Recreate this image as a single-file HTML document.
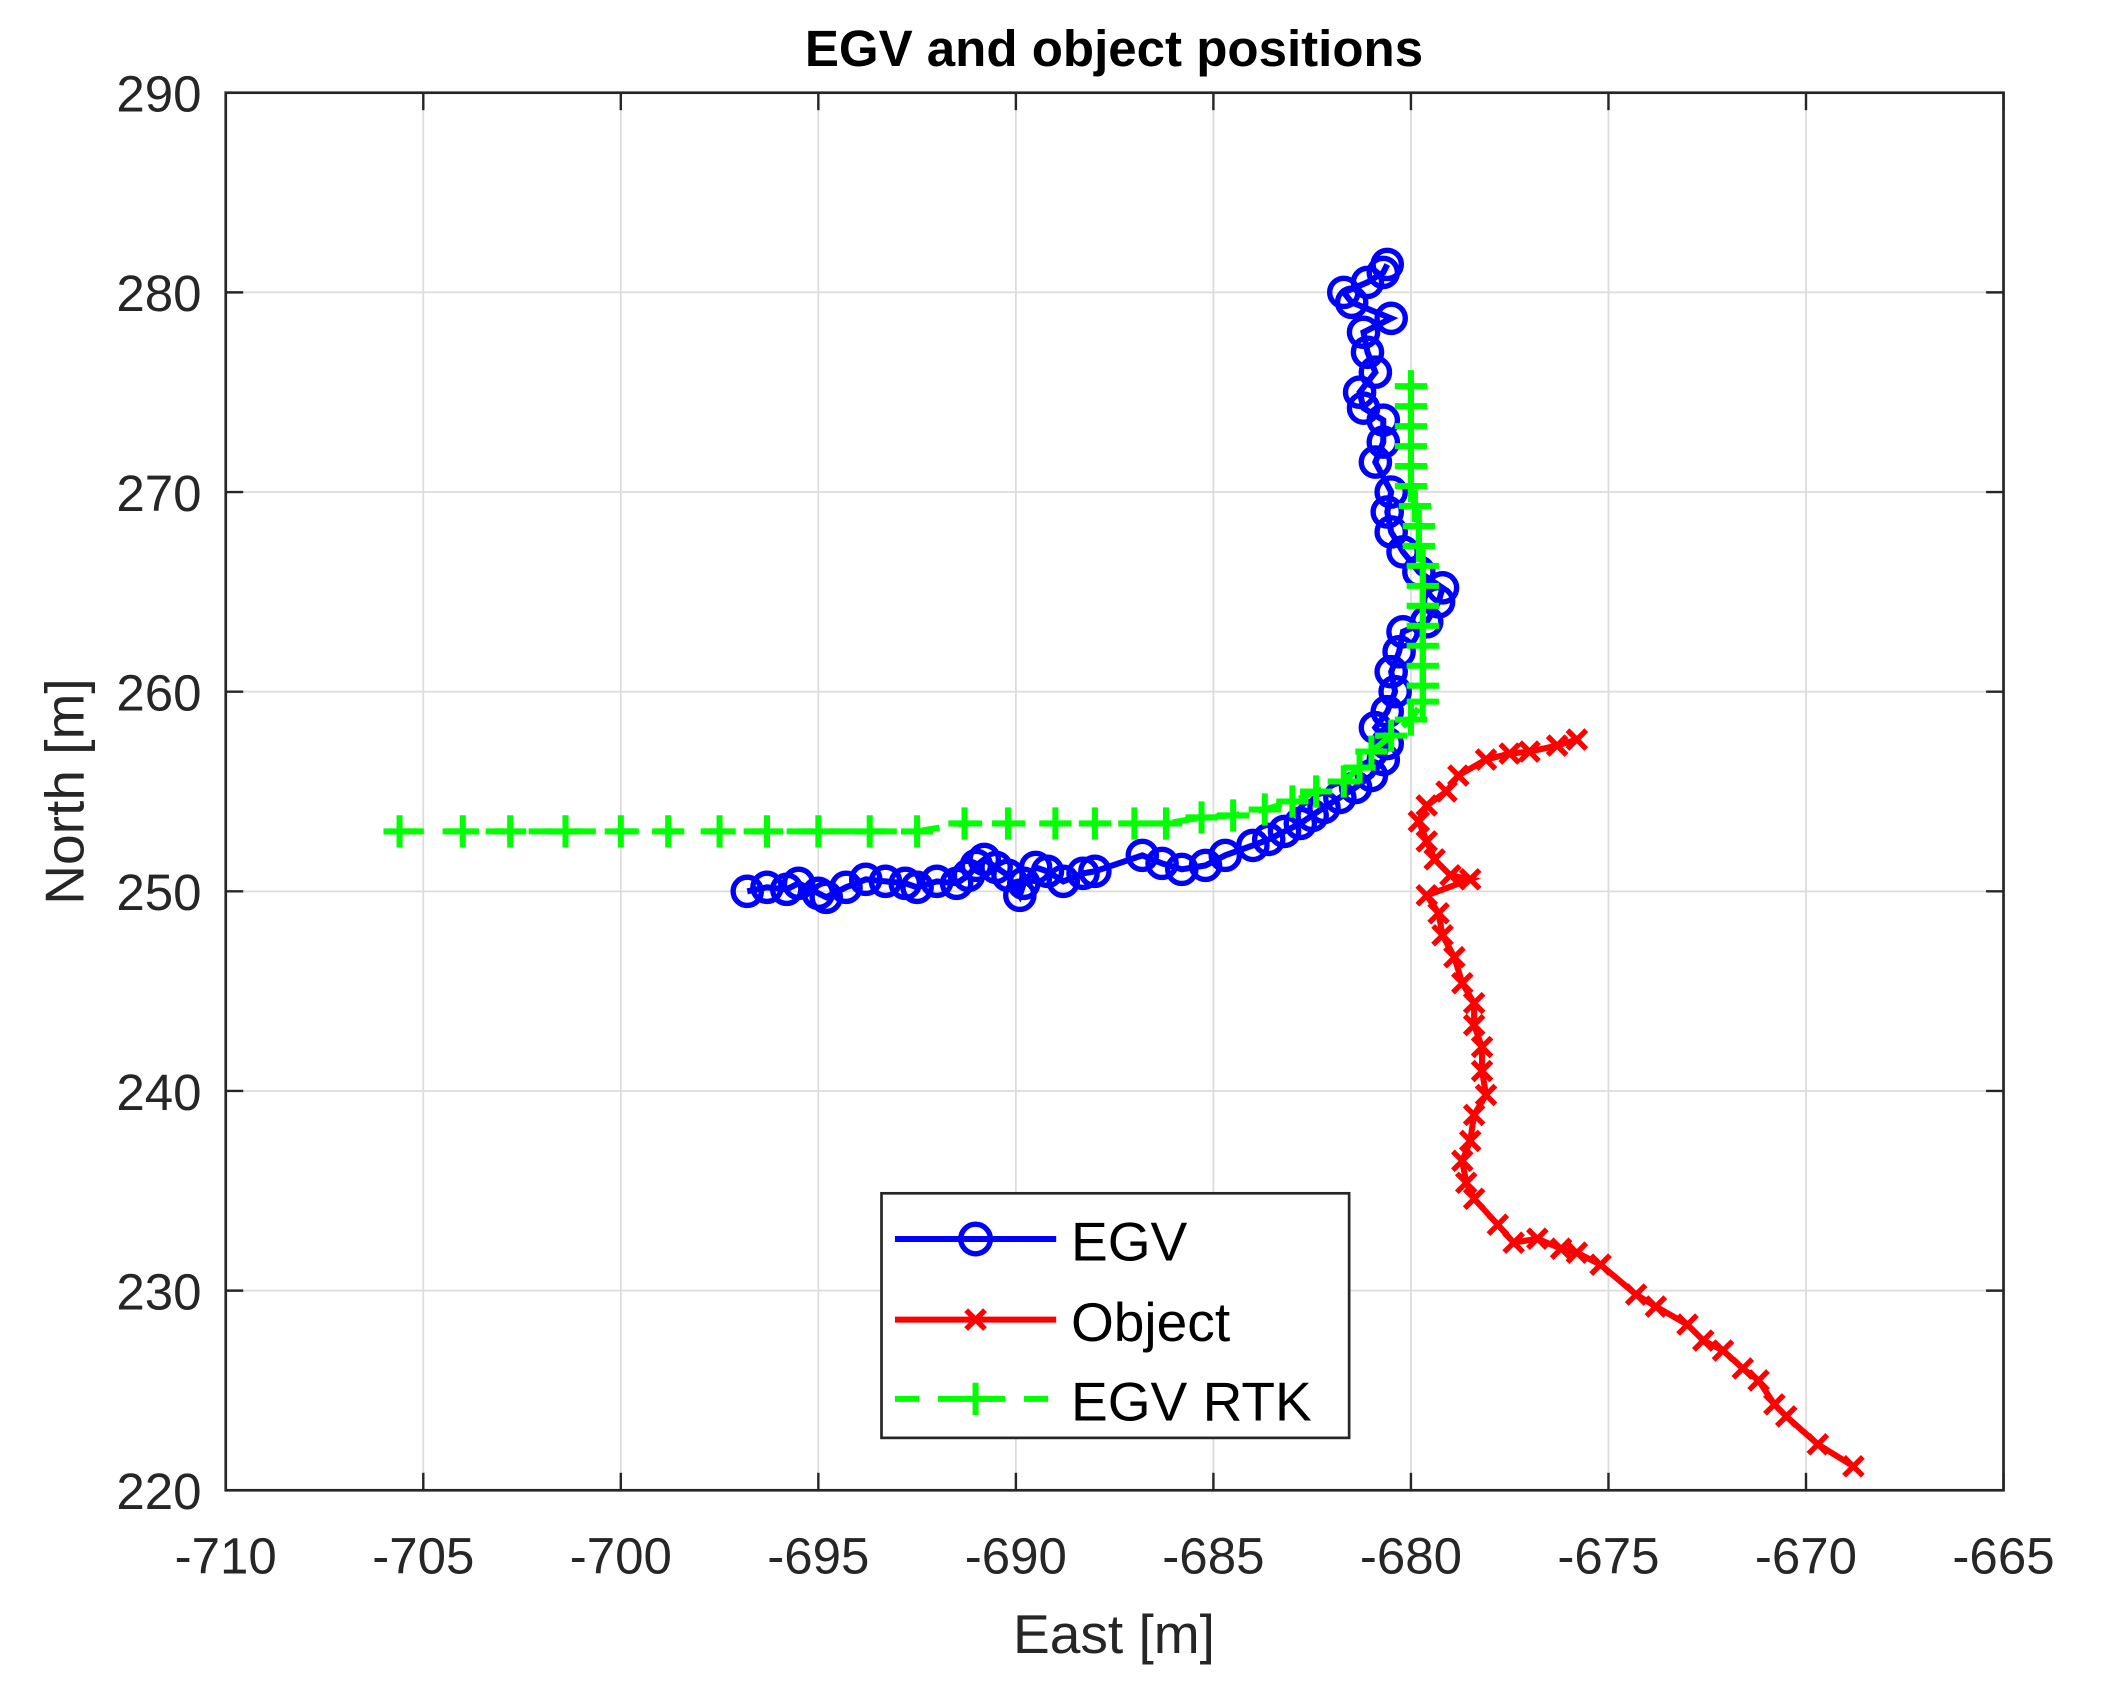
<!DOCTYPE html>
<html><head><meta charset="utf-8"><style>html,body{margin:0;padding:0;background:#fff}svg{display:block}</style></head>
<body>
<svg id="s" width="2107" height="1703" viewBox="0 0 1568 1267.3" preserveAspectRatio="none" xmlns="http://www.w3.org/2000/svg" font-family="Liberation Sans, sans-serif">
<rect width="1568" height="1268" fill="#fff"/>
<g id="grid" stroke="#dcdcdc" stroke-width="1.3"></g>
<g id="ticks" stroke="#262626" stroke-width="1.8"></g>
<g id="labels" fill="#262626" font-size="38"></g>
<rect x="168" y="69" width="1323" height="1040" fill="none" stroke="#262626" stroke-width="2"/>
<text x="829" y="49" text-anchor="middle" font-weight="bold" font-size="38" fill="#000">EGV and object positions</text>
<text x="829" y="1230" text-anchor="middle" font-size="41" fill="#262626">East [m]</text>
<text transform="translate(62,589) rotate(-90)" text-anchor="middle" font-size="41" fill="#262626">North [m]</text>
<g id="data"></g>
<g>
<rect x="656" y="888" width="348" height="182" fill="#fff" stroke="#262626" stroke-width="2"/>
<line x1="666" y1="922" x2="786" y2="922" stroke="#0000ff" stroke-width="4.5"/>
<circle cx="726" cy="922" r="11" fill="none" stroke="#0000ff" stroke-width="4"/>
<text x="797" y="938" font-size="41" fill="#000">EGV</text>
<line x1="666" y1="982" x2="786" y2="982" stroke="#ff0000" stroke-width="4.5"/>
<path d="M719,975 l14,14 M733,975 l-14,14" stroke="#ff0000" stroke-width="4"/>
<text x="797" y="998" font-size="41" fill="#000">Object</text>
<line x1="666" y1="1041" x2="786" y2="1041" stroke="#00ff00" stroke-width="4.5" stroke-dasharray="18,14"/>
<path d="M714,1041 h24 M726,1029 v24" stroke="#00ff00" stroke-width="4.5"/>
<text x="797" y="1057" font-size="41" fill="#000">EGV RTK</text>
</g>
</svg>
<script>
const NS="http://www.w3.org/2000/svg";
const X=v=>168+(v+710)*1323/45, Y=v=>69+(290-v)*1040/70;
function el(p,t,a){const e=document.createElementNS(NS,t);for(const k in a)e.setAttribute(k,a[k]);p.appendChild(e);return e;}
const g=document.getElementById('grid'),tk=document.getElementById('ticks'),lb=document.getElementById('labels');
for(let v=-710;v<=-665;v+=5){const x=X(v);
 if(v>-710&&v<-665)el(g,'line',{x1:x,y1:69,x2:x,y2:1109});
 el(tk,'line',{x1:x,y1:1109,x2:x,y2:1096});el(tk,'line',{x1:x,y1:69,x2:x,y2:82});
 const t=el(lb,'text',{x:x,y:1171,'text-anchor':'middle'});t.textContent=String(v);}
for(let v=220;v<=290;v+=10){const y=Y(v);
 if(v>220&&v<290)el(g,'line',{x1:168,y1:y,x2:1491,y2:y});
 el(tk,'line',{x1:168,y1:y,x2:181,y2:y});el(tk,'line',{x1:1491,y1:y,x2:1478,y2:y});
 const t=el(lb,'text',{x:150,y:y+14,'text-anchor':'end'});t.textContent=v;}
const egv=[[-696.8,250],[-696.3,250.2],[-695.8,250.1],[-695.5,250.4],[-695,249.9],[-694.8,249.7],[-694.3,250.2],[-693.8,250.6],[-693.3,250.5],[-692.8,250.4],[-692.5,250.2],[-692,250.5],[-691.5,250.4],[-691.2,250.8],[-691,251.3],[-690.8,251.6],[-690.5,251.2],[-690.2,250.8],[-689.9,249.8],[-689.8,250.4],[-689.5,251.2],[-689.2,251],[-688.8,250.5],[-688.3,250.9],[-688,251],[-686.8,251.8],[-686.3,251.4],[-685.8,251.1],[-685.2,251.3],[-684.7,251.8],[-684,252.3],[-683.6,252.6],[-683.2,253],[-682.8,253.4],[-682.5,253.8],[-682.2,254.2],[-681.8,254.7],[-681.4,255.2],[-681,255.8],[-680.7,256.6],[-680.6,257.4],[-680.9,258.2],[-680.6,259],[-680.4,260],[-680.5,261],[-680.3,262],[-680.2,263],[-679.6,263.5],[-679.3,264.5],[-679.2,265.2],[-679.8,266],[-680.2,267],[-680.5,268],[-680.6,269],[-680.5,270],[-680.9,271.5],[-680.7,272.5],[-680.7,273.6],[-681.2,274.2],[-681.3,275],[-680.9,276],[-681.1,277],[-681.2,278],[-680.5,278.7],[-681.5,279.5],[-681.7,280],[-681.1,280.5],[-680.7,281],[-680.6,281.4]];
const obj=[[-668.8,221.2],[-669.7,222.3],[-670.5,223.7],[-670.8,224.3],[-671.2,225.5],[-671.6,226.1],[-672.1,227],[-672.6,227.5],[-673,228.3],[-673.8,229.2],[-674.3,229.8],[-675.2,231.3],[-675.8,231.9],[-676.2,232.1],[-676.8,232.6],[-677.4,232.4],[-677.8,233.3],[-678.4,234.6],[-678.6,235.4],[-678.7,236.5],[-678.5,237.5],[-678.4,238.8],[-678.1,239.8],[-678.2,241],[-678.2,242.2],[-678.4,243.3],[-678.4,244.4],[-678.7,245.4],[-678.9,246.7],[-679.2,247.8],[-679.3,248.9],[-679.6,249.8],[-678.5,250.6],[-679,250.8],[-679.4,251.6],[-679.6,252.5],[-679.8,253.5],[-679.6,254.3],[-679.1,255],[-678.8,255.8],[-678.1,256.6],[-677.5,256.9],[-677,257],[-676.3,257.3],[-675.8,257.6]];
const rtk=[[-705.6,253],[-704,253],[-702.8,253],[-701.4,253],[-700,253],[-698.8,253],[-697.5,253],[-696.3,253],[-695,253],[-693.7,253],[-692.5,253],[-691.3,253.4],[-690.2,253.4],[-689,253.4],[-688,253.4],[-687,253.4],[-686.2,253.4],[-685.3,253.7],[-684.5,253.8],[-683.7,254.1],[-683,254.5],[-682.4,255],[-681.7,255.5],[-681.3,256.2],[-681,257],[-680.5,257.8],[-680,258.6],[-679.7,259.5],[-679.7,260.3],[-679.7,261.3],[-679.7,262.3],[-679.7,263.3],[-679.7,264.3],[-679.7,265.3],[-679.7,266.3],[-679.8,267.3],[-679.8,268.3],[-679.9,269.3],[-680,270.3],[-680,271.3],[-680,272.3],[-680,273.3],[-680,274.3],[-680,275.3]];
const d=document.getElementById('data');
const pts=a=>a.map(p=>X(p[0]).toFixed(1)+','+Y(p[1]).toFixed(1)).join(' ');
el(d,'polyline',{points:pts(egv),fill:'none',stroke:'#0000ff','stroke-width':4.5});
egv.forEach(p=>el(d,'circle',{cx:X(p[0]),cy:Y(p[1]),r:10.5,fill:'none',stroke:'#0000ff','stroke-width':4}));
el(d,'polyline',{points:pts(obj),fill:'none',stroke:'#ff0000','stroke-width':4.5});
obj.forEach(p=>{const x=X(p[0]),y=Y(p[1]);el(d,'path',{d:`M${x-7},${y-7}l14,14M${x+7},${y-7}l-14,14`,stroke:'#ff0000','stroke-width':4});});
el(d,'polyline',{points:pts(rtk),fill:'none',stroke:'#00ff00','stroke-width':4.5,'stroke-dasharray':'18,14'});
rtk.forEach(p=>{const x=X(p[0]),y=Y(p[1]);el(d,'path',{d:`M${x-12},${y}h24M${x},${y-12}v24`,stroke:'#00ff00','stroke-width':4.5});});
</script>
</body></html>
